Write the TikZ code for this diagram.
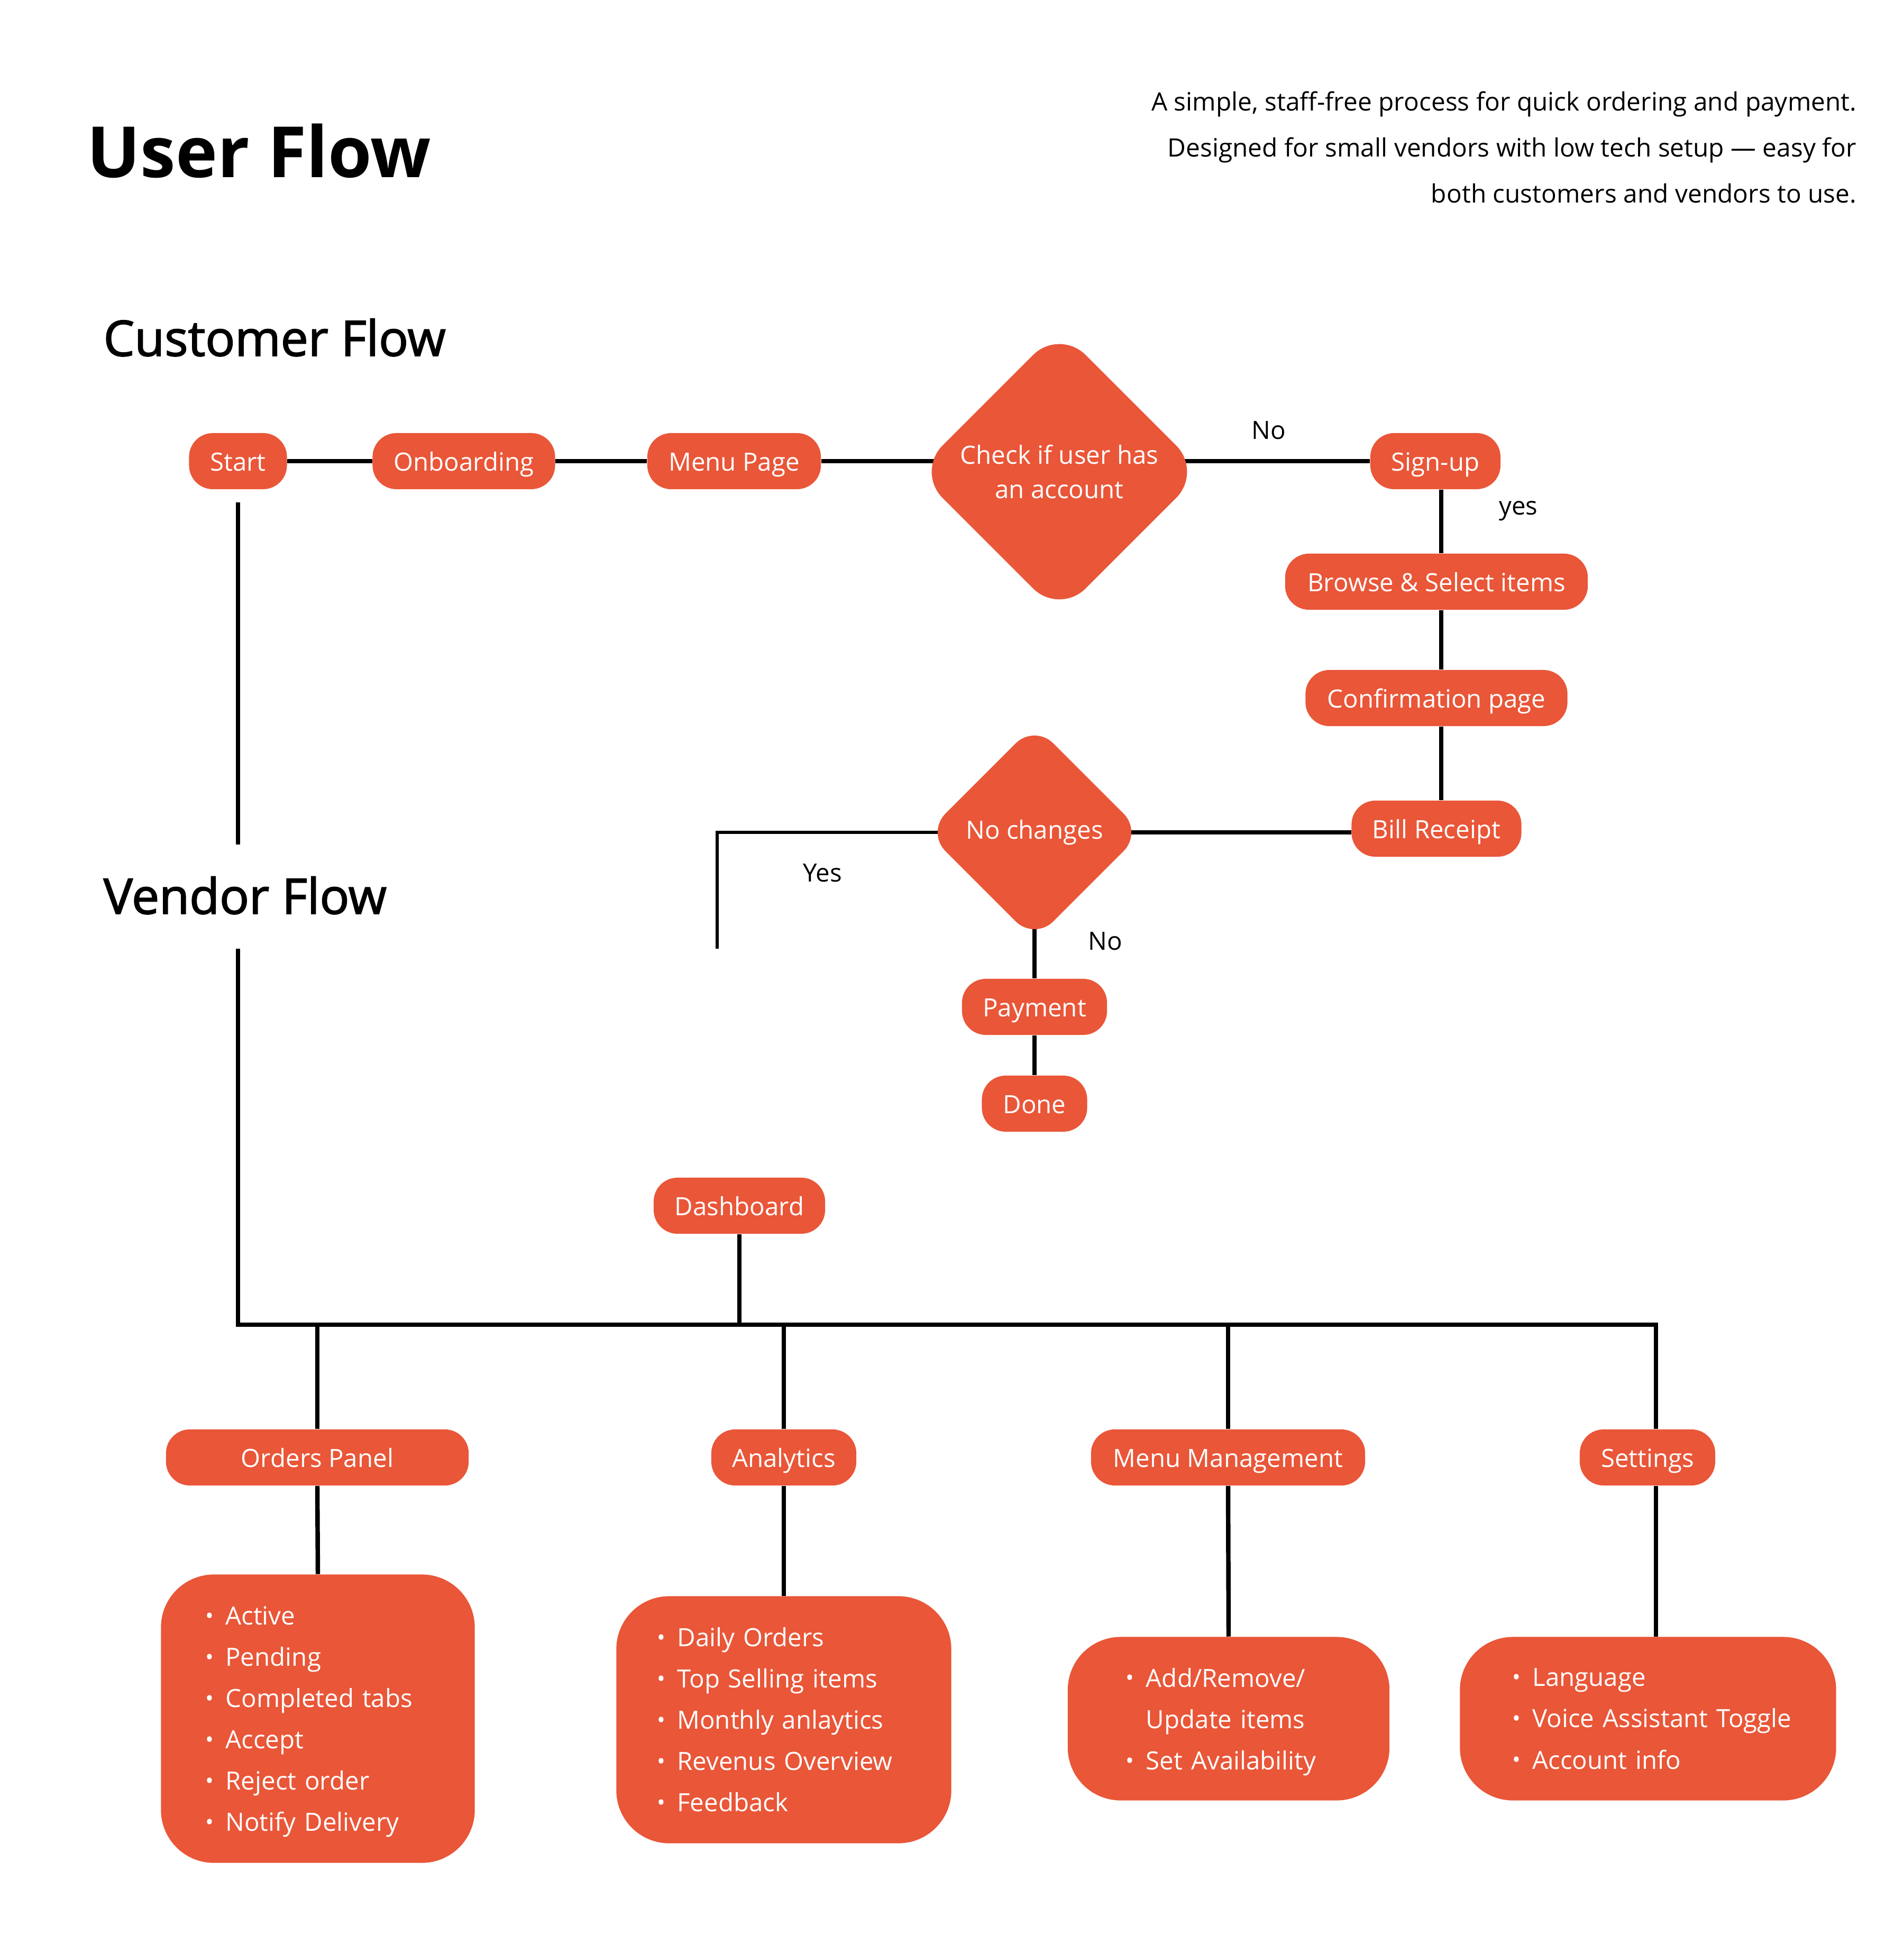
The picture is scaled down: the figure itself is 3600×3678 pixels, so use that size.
\documentclass[tikz,border=0pt]{standalone}
\usepackage{fontspec}
\setmainfont{Open Sans}
\newfontfamily\semib{Open Sans}[FakeBold=2]
\usetikzlibrary{shapes.geometric,backgrounds}
\definecolor{brand}{RGB}{233,86,56}
\newcommand\bl{\makebox[0.38cm][l]{\fontsize{12pt}{12pt}\selectfont\raisebox{0.05em}{•}}}
\newcommand\lastln[2]{\raisebox{0pt}[\height][#1]{#2}}
\begin{document}
\begin{tikzpicture}[x=0.01cm,y=-0.01cm,
  pill/.style={fill=brand, text=white, rounded corners=0.45cm, minimum height=1.06cm, inner xsep=0.1cm, inner ysep=0pt, text height=0.38cm, text depth=0.02cm, font=\fontsize{13.5pt}{16pt}\selectfont},
  dia/.style={diamond, fill=brand, text=white, inner sep=0pt, aspect=1, align=center, font=\fontsize{13.5pt}{18.7pt}\selectfont},
  listbox/.style={fill=brand, text=white, rounded corners=1cm, align=left, font=\fontsize{13.5pt}{22.2pt}\selectfont, inner ysep=0pt},
  conn/.style={line width=2.4pt},
  thinconn/.style={line width=1.7pt},
  lbl/.style={font=\fontsize{13.5pt}{16pt}\selectfont, text=black, inner sep=0pt},
  heading/.style={anchor=base west, inner sep=0pt, font=\semib\fontsize{26.4pt}{28pt}\selectfont},
]
\useasboundingbox (0,0) rectangle (3600,3678);

% titles
\node[anchor=base west, inner sep=0pt, font=\bfseries\fontsize{38pt}{40pt}\selectfont] (title) at (164,335) {User Flow};
\node[anchor=north east, inner sep=0pt, align=right, font=\fontsize{13.6pt}{24.7pt}\selectfont] (desc) at (3511,172)
  {A simple, staff-free process for quick ordering and payment.\\Designed for small vendors with low tech setup — easy for\\both customers and vendors to use.};
\node[heading] (cust) at (195,673) {Customer Flow};
\node[heading] (vend) at (195,1728) {Vendor Flow};

% customer flow
\node[pill, minimum width=1.85cm] (start) at (450,872) {Start};
\node[pill, minimum width=3.45cm] (onb) at (877,872) {Onboarding};
\node[pill, minimum width=3.28cm] (menu) at (1388,872) {Menu Page};
\node[dia, minimum width=5.41cm, minimum height=5.41cm, rounded corners=0.7cm] (check) at (2003,892) {Check if user has\\an account};
\node[pill, minimum width=2.46cm] (signup) at (2714,872) {Sign-up};
\node[pill, minimum width=5.72cm] (browse) at (2716,1100) {Browse \& Select items};
\node[pill, minimum width=4.95cm] (confirm) at (2716,1320) {Confirmation page};
\node[pill, minimum width=3.21cm] (bill) at (2716,1567) {Bill Receipt};
\node[dia, minimum width=4.08cm, minimum height=4.08cm, rounded corners=0.5cm] (nochg) at (1956,1574) {No changes};
\node[pill, minimum width=2.74cm] (pay) at (1956,1904) {Payment};
\node[pill, minimum width=1.99cm] (done) at (1956,2087) {Done};

\node[lbl] (lno1) at (2399,814) {No};
\node[lbl] (lyes1) at (2871,966) {yes};
\node[lbl] (lyes2) at (1555,1651) {Yes};
\node[lbl] (lno2) at (2090,1780) {No};

\coordinate (vx) at (2725,0);
\coordinate (yesend) at (1356,1794);
\coordinate (s1) at (450,950);
\coordinate (s2) at (450,1597);

% vendor flow
\node[pill, minimum width=3.24cm] (dash) at (1398,2280) {Dashboard};
\node[pill, minimum width=5.72cm] (orders) at (600,2756) {Orders Panel};
\node[pill, minimum width=2.74cm] (analytics) at (1482,2756) {Analytics};
\node[pill, minimum width=5.18cm] (mgmt) at (2322,2756) {Menu Management};
\node[pill, minimum width=2.56cm] (settings) at (3115,2756) {Settings};

\node[listbox, minimum width=5.93cm, minimum height=5.45cm, inner xsep=0.84cm, text width=4.25cm] (box1) at (601,3250)
  {\bl Active\\\bl Pending\\\bl Completed tabs\\\bl Accept\\\bl Reject order\\\bl \lastln{-0.06cm}{Notify Delivery}};
\node[listbox, minimum width=6.33cm, minimum height=4.67cm, inner xsep=0.77cm, text width=4.79cm] (box2) at (1482,3252)
  {\bl Daily Orders\\\bl Top Selling items\\\bl Monthly anlaytics\\\bl Revenus Overview\\\bl Feedback};
\node[listbox, minimum width=6.08cm, minimum height=3.09cm, inner xsep=1.10cm, text width=3.88cm] (box3) at (2323,3250)
  {\bl \mbox{Add/Remove/}\\\hspace*{0.38cm}\mbox{Update items}\\\bl \lastln{-0.06cm}{Set Availability}};
\node[listbox, minimum width=7.11cm, minimum height=3.09cm, inner xsep=0.99cm, text width=5.13cm] (box4) at (3116,3250)
  {\bl Language\\\bl \mbox{Voice Assistant Toggle}\\\bl \lastln{-0.05cm}{Account info}};

\coordinate (v1) at (450,1794);
\coordinate (bus) at (0,2505);
\coordinate (setx) at (3131,0);

\begin{pgfonlayer}{background}
\draw[conn] (start.east) -- (onb.west);
\draw[conn] (onb.east) -- (menu.west);
\draw[conn] (menu.east) -- (menu.east -| check.center);
\draw[conn] (check.center |- signup.west) -- (signup.west);
\draw[conn] (signup.south -| vx) -- (browse.north -| vx);
\draw[conn] (browse.south -| vx) -- (confirm.north -| vx);
\draw[conn] (confirm.south -| vx) -- (bill.north -| vx);
\draw[conn] (nochg.center) -- (bill.west |- nochg.center);
\draw[thinconn] (nochg.center) -| (yesend);
\draw[conn] (nochg.center) -- (pay.north);
\draw[conn] (pay.south) -- (done.north);
\draw[conn] (s1) -- (s2);
\draw[conn] (v1) |- (setx |- bus) -- (settings.north -| setx);
\draw[conn] (dash.south) -- (dash.south |- bus);
\draw[conn] (orders.north |- bus) -- (orders.north);
\draw[conn] (analytics.north |- bus) -- (analytics.north);
\draw[conn] (mgmt.north |- bus) -- (mgmt.north);
\draw[conn] (orders.south) -- (box1.north);
\draw[conn] (analytics.south) -- (box2.north);
\draw[conn] (mgmt.south) -- (box3.north);
\draw[conn] (settings.south -| setx) -- (box4.north -| setx);
\end{pgfonlayer}
\end{tikzpicture}
\end{document}
